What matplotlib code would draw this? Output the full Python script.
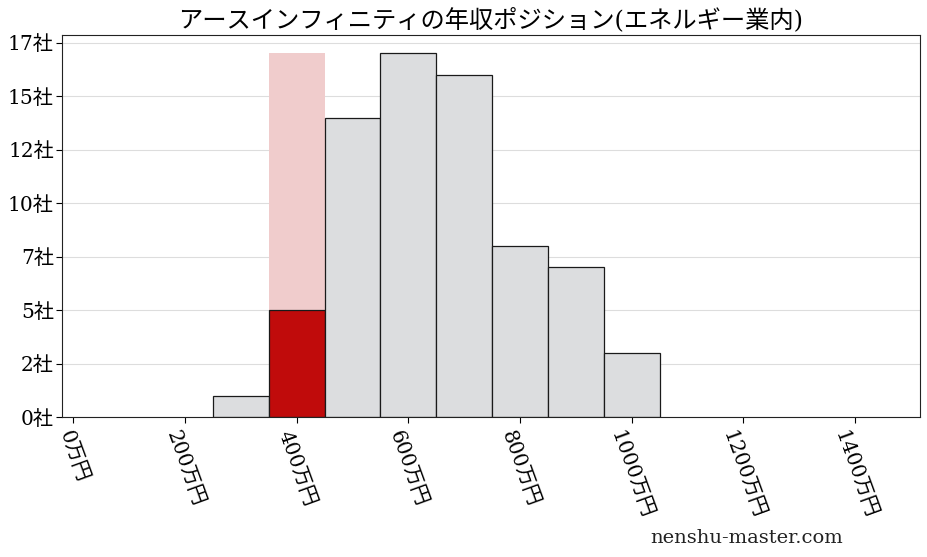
import matplotlib
matplotlib.use("Agg")
import matplotlib.pyplot as plt
import numpy as np

plt.rcParams['font.family'] = ['DejaVu Serif', 'Noto Sans CJK JP']

# histogram bins (万円) and company counts
bin_left = [250, 350, 450, 550, 650, 750, 850, 950]
counts = [1, 5, 14, 17, 16, 8, 7, 3]
bin_width = 100
highlight_left = 350        # bin of アースインフィニティ
x_ticks = [0, 200, 400, 600, 800, 1000, 1200, 1400]
y_ticks = [0, 2.5, 5, 7.5, 10, 12.5, 15, 17.5]

title = "アースインフィニティの年収ポジション(エネルギー業内)"

fig = plt.figure(figsize=(9.28, 5.57), dpi=100)
ax = fig.add_axes([0.067, 0.251, 0.924, 0.686])

ymax = max(counts)
colors = ["#c00b0b" if l == highlight_left else "#dcdddf" for l in bin_left]

# pink column behind the highlighted bin
ax.bar(highlight_left, ymax, width=bin_width, align="edge",
       color="#f0cccc", edgecolor="none", zorder=1)
ax.bar(bin_left, counts, width=bin_width, align="edge",
       color=colors, edgecolor="#1a1a1a", linewidth=0.9, zorder=2)

ax.set_xlim(-20, 1516)
ax.set_ylim(0, ymax * 1.05)
ax.set_xticks(x_ticks)
ax.set_xticklabels([f"{v}万円" for v in x_ticks], rotation=-70,
                   ha="center", va="top", fontsize=14.5)
ax.set_yticks(y_ticks)
ax.set_yticklabels([f"{int(v)}社" for v in y_ticks], fontsize=14.5)
ax.tick_params(axis="x", pad=4, length=4)
ax.tick_params(axis="y", pad=2, length=4)
ax.grid(axis="y", color="#dddddd", linewidth=0.8, zorder=0)
ax.set_axisbelow(True)
for s in ax.spines.values():
    s.set_color("#222222")

ax.set_title(title, fontsize=17.5, pad=6)
fig.text(0.805, 0.035, "nenshu-master.com", fontsize=14, ha="center",
         va="center", color="#222222")

fig.savefig("out.png", dpi=100)
